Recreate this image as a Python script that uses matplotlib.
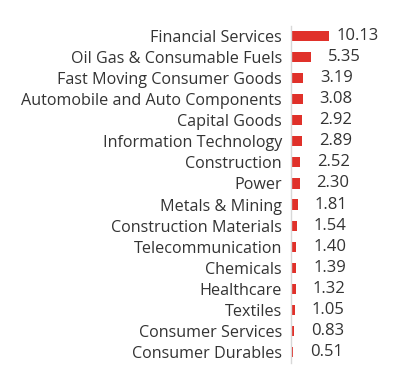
import matplotlib.pyplot as plt

sectors = ["Financial Services", "Oil Gas & Consumable Fuels", "Fast Moving Consumer Goods",
           "Automobile and Auto Components", "Capital Goods", "Information Technology",
           "Construction", "Power", "Metals & Mining", "Construction Materials",
           "Telecommunication", "Chemicals", "Healthcare", "Textiles",
           "Consumer Services", "Consumer Durables"]
weights = [10.13, 5.35, 3.19, 3.08, 2.92, 2.89, 2.52, 2.30, 1.81, 1.54,
           1.40, 1.39, 1.32, 1.05, 0.83, 0.51]

plt.rcParams['font.family'] = ['Open Sans', 'DejaVu Sans']

fig = plt.figure(figsize=(3.95, 3.7), dpi=100)
ax = fig.add_axes([291/395, 1-362.5/370, 90/395, 337/370])

y = range(len(sectors))
ax.barh(y, weights, height=0.48, color='#e0312a')
ax.set_ylim(len(sectors)-0.5, -0.5)
xmax = 24
ax.set_xlim(0, xmax)

for s in ['top', 'right', 'bottom']:
    ax.spines[s].set_visible(False)
ax.spines['left'].set_color('#d8d8d8')
ax.spines['left'].set_linewidth(1)
ax.set_xticks([])
ax.set_yticks(list(y))
ax.set_yticklabels(sectors, fontsize=11.6, color='#333333')
ax.tick_params(axis='y', length=0, pad=6.5)

# value labels: 17px right of bar, pushed back inside if they overflow
renderer = fig.canvas.get_renderer()
limit = 88 / 90 * xmax
for i, v in enumerate(weights):
    t = ax.text(v + 4.5, i, f"{v:.2f}", va='center', ha='left', fontsize=12, color='#333333')
    bb = t.get_window_extent(renderer).transformed(ax.transData.inverted())
    if bb.x1 > limit:
        t.set_x(limit)
        t.set_ha('right')

fig.savefig('out.png', dpi=100)
